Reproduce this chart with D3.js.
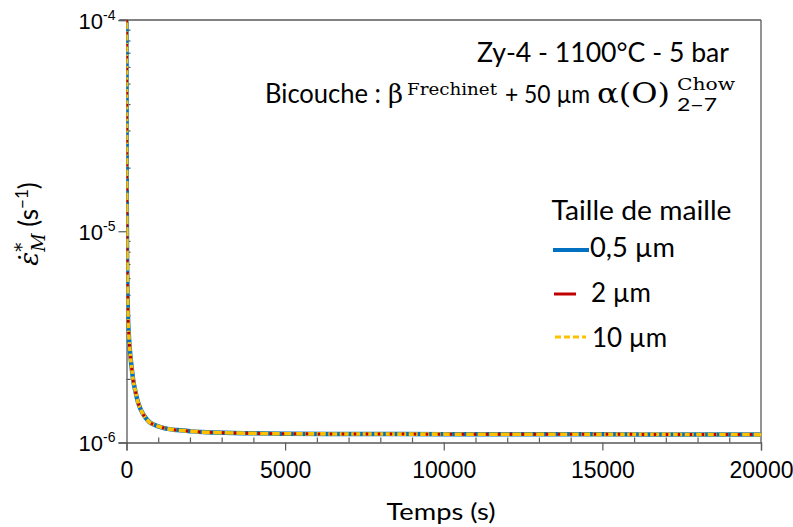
<!DOCTYPE html>
<html><head><meta charset="utf-8">
<script src="https://cdn.jsdelivr.net/npm/d3@7"></script>
<style>body{margin:0;background:#fff}svg{display:block}</style>
</head><body><svg id="c" width="793" height="527"></svg>
<script>
// ---- data ----
const seriesNames = ["0,5 µm", "2 µm", "10 µm"];
const timeS = [0, 2, 5, 10, 20, 35, 50, 75, 105, 150, 210, 280, 357, 450, 568, 720, 893, 1100, 1300, 1600, 1934, 2400, 2790, 3670, 5000, 7500, 10000, 12500, 15000, 17500, 20000];
const rate05 = [1.0e-4, 6.0e-5, 2.6e-5, 1.25e-5, 7.0e-6, 4.8e-6, 3.8e-6, 3.2e-6, 2.75e-6, 2.35e-6, 1.98e-6, 1.75e-6, 1.56e-6, 1.43e-6, 1.33e-6, 1.25e-6, 1.21e-6, 1.18e-6, 1.16e-6, 1.145e-6, 1.135e-6, 1.12e-6, 1.115e-6, 1.107e-6, 1.10e-6, 1.097e-6, 1.095e-6, 1.094e-6, 1.093e-6, 1.092e-6, 1.09e-6];
const rate2 = [1.0e-4, 6.0e-5, 2.6e-5, 1.25e-5, 7.0e-6, 4.8e-6, 3.8e-6, 3.2e-6, 2.75e-6, 2.35e-6, 1.98e-6, 1.75e-6, 1.56e-6, 1.43e-6, 1.33e-6, 1.25e-6, 1.21e-6, 1.18e-6, 1.16e-6, 1.145e-6, 1.135e-6, 1.12e-6, 1.115e-6, 1.107e-6, 1.10e-6, 1.097e-6, 1.095e-6, 1.094e-6, 1.093e-6, 1.092e-6, 1.09e-6];
const rate10 = [1.0e-4, 6.0e-5, 2.6e-5, 1.25e-5, 7.0e-6, 4.8e-6, 3.8e-6, 3.2e-6, 2.75e-6, 2.35e-6, 1.98e-6, 1.75e-6, 1.56e-6, 1.43e-6, 1.33e-6, 1.25e-6, 1.21e-6, 1.18e-6, 1.16e-6, 1.145e-6, 1.135e-6, 1.12e-6, 1.115e-6, 1.107e-6, 1.10e-6, 1.097e-6, 1.095e-6, 1.094e-6, 1.093e-6, 1.092e-6, 1.09e-6];
const xTicks = [0, 5000, 10000, 15000, 20000];
const xMinorTicks = [1000,2000,3000,4000,6000,7000,8000,9000,11000,12000,13000,14000,16000,17000,18000,19000];
const yTickExps = [-6, -5, -4];

// ---- layout ----
const L = 126.5, R = 761, T = 20, B = 442.5;
const svg = d3.select("#c");
const x = d3.scaleLinear().domain([0, 20000]).range([L, R]);
const y = d3.scaleLog().domain([1e-6, 1e-4]).range([B, T]);
const frame = "#595959";
const sans = "Lato, 'Open Sans', sans-serif";
const serif = "'DejaVu Serif', 'Liberation Serif', serif";
const arial = "'Liberation Sans', Arial, sans-serif";

function fit(sel, w, mode) {
  sel.each(function(){ const n=this; const cw=n.getComputedTextLength(); if (Math.abs(cw-w)>1) { n.setAttribute("textLength", w); n.setAttribute("lengthAdjust", mode || "spacingAndGlyphs"); } });
  return sel;
}

// frame top/right
svg.append("line").attr("x1", L-7).attr("x2", R).attr("y1", T).attr("y2", T).attr("stroke", frame).attr("stroke-width", 1.3);
svg.append("line").attr("x1", R).attr("x2", R).attr("y1", T).attr("y2", B).attr("stroke", frame).attr("stroke-width", 1.3);

// x axis
const gx = svg.append("g").attr("transform", `translate(0,${B})`)
  .call(d3.axisBottom(x).tickValues(xTicks).tickSize(8).tickFormat(d3.format("d")));
gx.select(".domain").attr("stroke", frame).attr("stroke-width", 1.3);
gx.selectAll(".tick line").attr("stroke", frame).attr("stroke-width", 1.2);
gx.selectAll(".tick text").attr("font-family", arial).attr("font-size", 23).attr("fill", "#000").attr("y", 19).attr("dy", "0.71em");
const gxm = svg.append("g").attr("transform", `translate(0,${B})`)
  .call(d3.axisBottom(x).tickValues(xMinorTicks).tickSize(-5).tickFormat(""));
gxm.select(".domain").remove();
gxm.selectAll(".tick line").attr("stroke", frame).attr("stroke-width", 1.2);

// y axis
const yMinor = [];
[-6, -5].forEach(e => { for (let k = 2; k <= 9; k++) yMinor.push(k * Math.pow(10, e)); });
const gy = svg.append("g").attr("transform", `translate(${L},0)`)
  .call(d3.axisLeft(y).tickValues(yTickExps.map(e => Math.pow(10, e))).tickSize(8).tickFormat(""));
gy.select(".domain").attr("stroke", frame).attr("stroke-width", 1.3);
gy.selectAll(".tick line").attr("stroke", frame).attr("stroke-width", 1.2);
gy.selectAll(".tick").each(function(d) {
  const e = Math.round(Math.log10(d));
  const t = d3.select(this).append("text").attr("x", -11).attr("y", 8).attr("text-anchor", "end")
    .attr("font-family", arial).attr("font-size", 22).attr("fill", "#000");
  t.append("tspan").text("10");
  t.append("tspan").attr("font-size", 14).attr("dy", -9).text(String(e));
});
const gym = svg.append("g").attr("transform", `translate(${L},0)`)
  .call(d3.axisLeft(y).tickValues(yMinor).tickSize(-4).tickFormat(""));
gym.select(".domain").remove();
gym.selectAll(".tick line").attr("stroke", frame).attr("stroke-width", 1.2);

// curves
svg.append("clipPath").attr("id", "clip").append("rect").attr("x", L).attr("y", T).attr("width", R - L).attr("height", B - T);
const line = d3.line().x(d => x(d[0])).y(d => y(d[1])).curve(d3.curveMonotoneX);
const gPlot = svg.append("g").attr("clip-path", "url(#clip)");
const styles = [
  {vals: rate05, color: "#0070C0", w: 4.5, dash: null},
  {vals: rate10, color: "#FFC000", w: 3.6, dash: "9,2.5"},
  {vals: rate2, color: "#C00000", w: 3, dash: "2.5,9.5"}
];
styles.forEach(s => {
  gPlot.append("path").datum(timeS.map((t, i) => [t, s.vals[i]]))
    .attr("d", line).attr("fill", "none").attr("stroke", s.color).attr("stroke-width", s.w)
    .attr("stroke-dasharray", s.dash);
});

// axis titles
fit(svg.append("text").attr("x", 441).attr("y", 520).attr("text-anchor", "middle")
  .attr("font-family", sans).attr("font-size", 23).text("Temps (s)"), 109);

const yt = svg.append("text").attr("transform", "translate(38,224) rotate(-90)").attr("text-anchor", "middle")
  .attr("font-size", 26).attr("fill", "#000");
yt.append("tspan").attr("font-family", serif).attr("font-style", "italic").text("ε̇");
yt.append("tspan").attr("font-family", serif).attr("font-size", 18).attr("dy", -10).text("*");
yt.append("tspan").attr("font-family", serif).attr("font-style", "italic").attr("font-size", 18).attr("dy", 17).attr("dx", -9).text("M");
yt.append("tspan").attr("font-family", sans).attr("dy", -7).text(" (s");
yt.append("tspan").attr("font-family", sans).attr("font-size", 17).attr("dy", -10).text("−1");
yt.append("tspan").attr("font-family", sans).attr("dy", 10).text(")");

// annotations
fit(svg.append("text").attr("x", 729).attr("y", 62).attr("text-anchor", "end")
  .attr("font-family", sans).attr("font-size", 27).text("Zy-4 - 1100°C - 5 bar"), 252);
fit(svg.append("text").attr("x", 265).attr("y", 103).attr("font-family", sans).attr("font-size", 26).text("Bicouche :"), 116);
svg.append("text").attr("x", 388).attr("y", 103).attr("font-family", serif).attr("font-size", 26).text("β");
fit(svg.append("text").attr("x", 407).attr("y", 95).attr("font-family", serif).attr("font-size", 17).text("Frechinet"), 90);
fit(svg.append("text").attr("x", 505).attr("y", 103).attr("font-family", sans).attr("font-size", 25).text("+ 50 µm"), 85);
fit(svg.append("text").attr("x", 597).attr("y", 103).attr("font-family", serif).attr("font-size", 28).text("α(O)"), 73);
fit(svg.append("text").attr("x", 677).attr("y", 90).attr("font-family", serif).attr("font-size", 16).text("Chow"), 58);
fit(svg.append("text").attr("x", 677).attr("y", 111).attr("font-family", sans).attr("font-size", 18).text("2−7"), 40);

// legend
fit(svg.append("text").attr("x", 551.5).attr("y", 220).attr("font-family", sans).attr("font-size", 26).text("Taille de maille"), 180);
const leg = [
  {name: seriesNames[0], color: "#0070C0", w: 4, dash: null, x1: 553, x2: 589, ly: 250, tx: 590, ty: 257, tw: 85},
  {name: seriesNames[1], color: "#C00000", w: 3, dash: null, x1: 554, x2: 576, ly: 294, tx: 591, ty: 302, tw: 61},
  {name: seriesNames[2], color: "#FFC000", w: 3, dash: "6,3", x1: 555, x2: 586, ly: 337, tx: 592, ty: 347, tw: 75}
];
leg.forEach(l => {
  svg.append("line").attr("x1", l.x1).attr("x2", l.x2).attr("y1", l.ly).attr("y2", l.ly)
    .attr("stroke", l.color).attr("stroke-width", l.w).attr("stroke-dasharray", l.dash);
  fit(svg.append("text").attr("x", l.tx).attr("y", l.ty).attr("font-family", sans).attr("font-size", 26).text(l.name), l.tw);
});
</script></body></html>
